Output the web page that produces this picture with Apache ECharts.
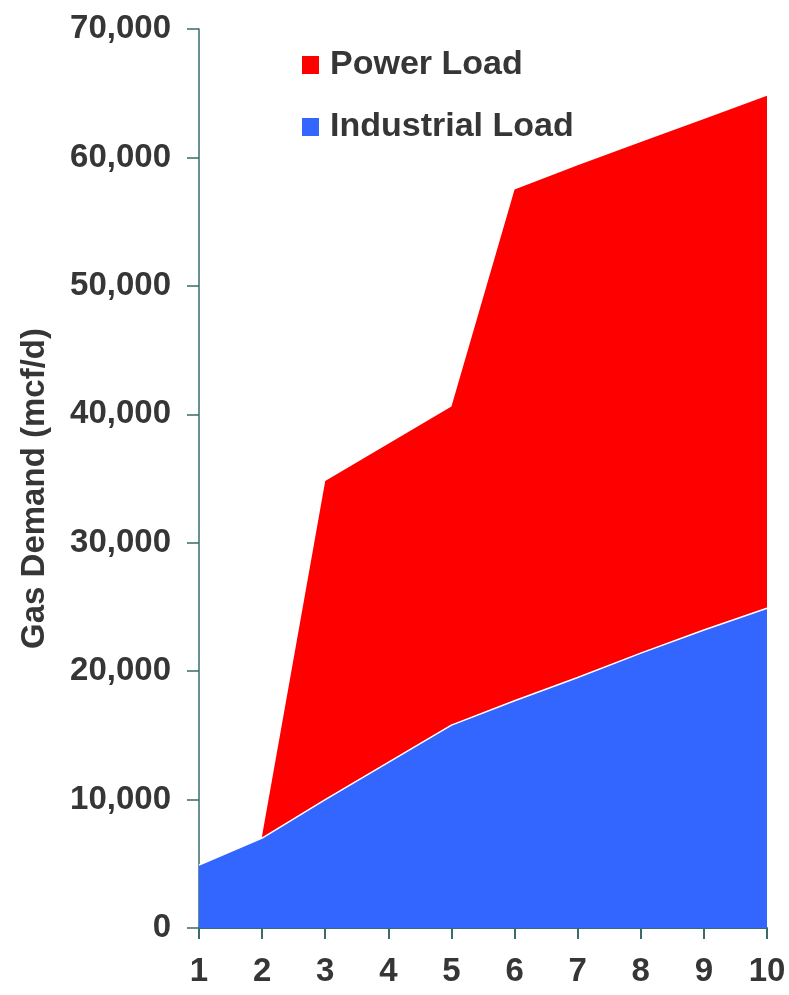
<!DOCTYPE html>
<html>
<head>
<meta charset="utf-8">
<script src="https://cdn.jsdelivr.net/npm/echarts@6/dist/echarts.min.js"></script>
<style>
html,body{margin:0;padding:0;background:#fff;}
#chart{width:789px;height:995px;}
</style>
</head>
<body>
<div id="chart"></div>
<script>
const years = ['1','2','3','4','5','6','7','8','9','10'];
const industrialLoad = [4900, 7000, 10000, 12900, 15800, 17700, 19500, 21400, 23200, 24900];
const powerLoad = [null, 200, 24800, 24800, 24800, 39800, 39900, 39800, 39800, 39900];
const yTicks = [0, 10000, 20000, 30000, 40000, 50000, 60000, 70000];

const FONT = '"Liberation Sans", Arial, sans-serif';
const TXT = '#363636';
const AX = '#3b6b6b';

const chart = echarts.init(document.getElementById('chart'), null, {renderer: 'canvas'});
chart.setOption({
  animation: false,
  backgroundColor: '#ffffff',
  grid: {left: 199, right: 22, top: 29, bottom: 67, containLabel: false},
  legend: {
    orient: 'vertical',
    left: 297,
    top: 43,
    itemWidth: 17,
    itemHeight: 18,
    itemGap: 28,
    icon: 'rect',
    data: ['Power Load', 'Industrial Load'],
    textStyle: {fontFamily: FONT, fontWeight: 'bold', fontSize: 34, color: TXT, lineHeight: 34, padding: [0, 0, 0, 6]}
  },
  xAxis: {
    type: 'category',
    data: years,
    boundaryGap: false,
    axisLine: {lineStyle: {color: AX, width: 2}},
    axisTick: {show: true, length: 11, lineStyle: {color: AX, width: 2}, alignWithLabel: true},
    axisLabel: {fontFamily: FONT, fontWeight: 'bold', fontSize: 33, color: TXT, margin: 27}
  },
  yAxis: {
    type: 'value',
    min: yTicks[0],
    max: yTicks[yTicks.length - 1],
    interval: 10000,
    name: 'Gas Demand (mcf/d)',
    nameLocation: 'middle',
    nameRotate: 90,
    nameGap: 148,
    nameTextStyle: {fontFamily: FONT, fontWeight: 'bold', fontSize: 33, color: TXT, padding: [0, 20, 0, 0]},
    axisLine: {show: true, lineStyle: {color: AX, width: 1.5}},
    axisTick: {show: true, length: 12, lineStyle: {color: AX, width: 1.5}},
    splitLine: {show: false},
    axisLabel: {
      fontFamily: FONT, fontWeight: 'bold', fontSize: 33, color: TXT, margin: 28,
      formatter: v => v.toLocaleString('en-US')
    }
  },
  series: [
    {
      name: 'Industrial Load',
      type: 'line',
      stack: 'total',
      data: industrialLoad,
      symbol: 'none',
      z: 3,
      lineStyle: {color: '#ffffff', width: 1.5},
      itemStyle: {color: '#3366ff'},
      areaStyle: {color: '#3366ff', opacity: 1}
    },
    {
      name: 'Power Load',
      type: 'line',
      stack: 'total',
      data: powerLoad,
      symbol: 'none',
      z: 2,
      lineStyle: {width: 0, color: '#ff0000'},
      itemStyle: {color: '#ff0000'},
      areaStyle: {color: '#ff0000', opacity: 1}
    }
  ]
});
</script>
</body>
</html>
